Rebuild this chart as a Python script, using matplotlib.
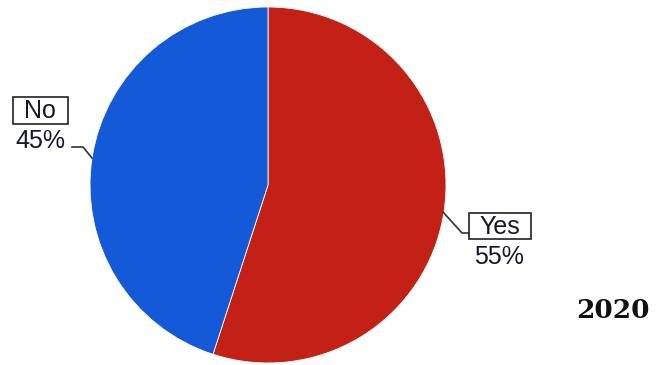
import matplotlib.pyplot as plt
from matplotlib.patches import Rectangle

labels = ["Yes", "No"]
shares = [55, 45]
colors = ["#C32116", "#1359D8"]
year = "2020"

W, H = 656, 365
fig = plt.figure(figsize=(W / 100, H / 100), dpi=100)
ax = fig.add_axes([0, 0, 1, 1])

# pie in pixel coordinates (y measured upward)
cx, cy, r = 268, H - 185, 178
ax.pie(shares, colors=colors, startangle=90, counterclock=False,
       center=(cx, cy), radius=r, frame=True,
       wedgeprops=dict(edgecolor="white", linewidth=0.6))
ax.set_xlim(0, W)
ax.set_ylim(0, H)
ax.set_aspect("equal")
ax.axis("off")

font = dict(family="Liberation Sans", fontsize=18, color="#16162e")
# label layout: box (left, top, right, bottom), percent text center, leader points
layout = {
    "No": dict(box=(12.5, 97, 67.5, 124), pct=(40, 141),
               leader=[(72, 147), (83, 147), (92, 158)]),
    "Yes": dict(box=(469, 213, 531, 239), pct=(499, 257),
                leader=[(443, 212), (462, 233), (469, 233)]),
}

for lab, val in zip(labels, shares):
    L = layout[lab]
    x0, y0, x1, y1 = L["box"]
    ax.add_patch(Rectangle((x0, H - y1), x1 - x0, y1 - y0, fill=False,
                           edgecolor="#222222", linewidth=1.2, zorder=5))
    ax.text((x0 + x1) / 2, H - (y0 + y1) / 2 - 1, lab, ha="center",
            va="center", **font)
    ax.text(L["pct"][0], H - L["pct"][1], f"{val}%", ha="center",
            va="center", **font)
    xs = [p[0] for p in L["leader"]]
    ys = [H - p[1] for p in L["leader"]]
    ax.plot(xs, ys, color="#333333", linewidth=1.2, zorder=4)

ax.text(613, H - 310, year, ha="center", va="center", fontsize=19,
        fontweight="bold", family="DejaVu Serif", color="#111111")

fig.savefig("out.png", dpi=100)
